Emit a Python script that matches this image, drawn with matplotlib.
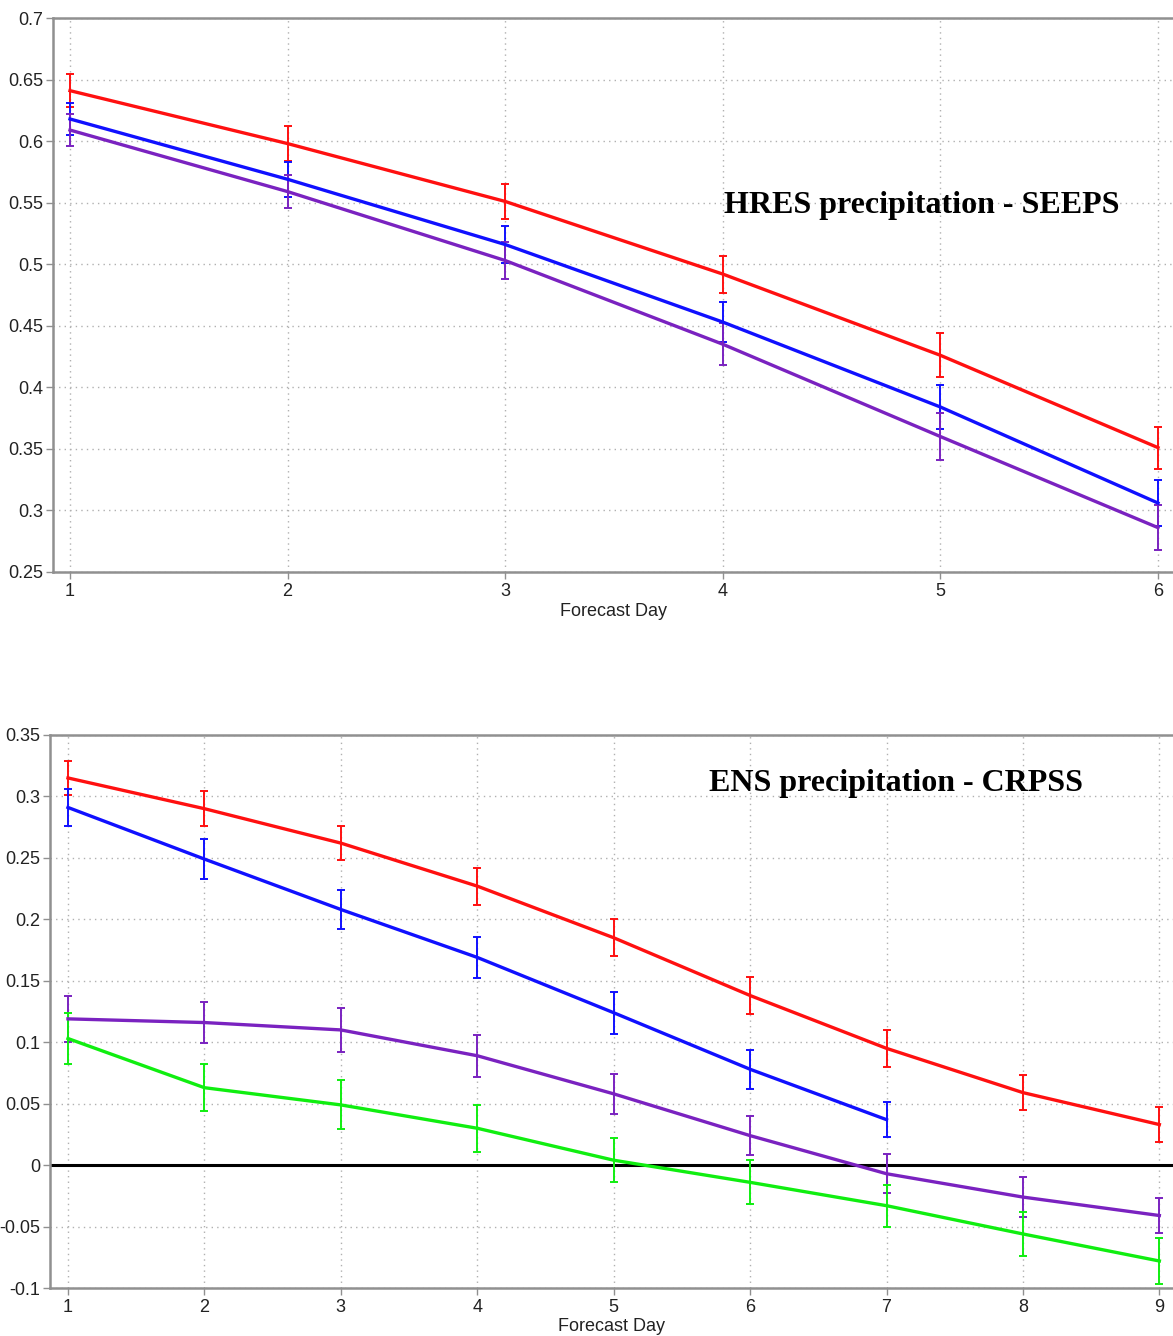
import matplotlib
matplotlib.use("Agg")
import matplotlib.pyplot as plt
import numpy as np

plt.rcParams["font.family"] = ["Liberation Sans", "DejaVu Sans"]

# HRES precipitation SEEPS, forecast days 1-6
hres_days = [1, 2, 3, 4, 5, 6]
hres_red = [0.641, 0.598, 0.551, 0.492, 0.426, 0.351]
hres_red_err = [0.0135, 0.014, 0.014, 0.015, 0.018, 0.017]
hres_blue = [0.618, 0.569, 0.516, 0.453, 0.384, 0.306]
hres_blue_err = [0.013, 0.014, 0.015, 0.016, 0.018, 0.019]
hres_purple = [0.609, 0.559, 0.503, 0.435, 0.360, 0.286]
hres_purple_err = [0.013, 0.0135, 0.015, 0.017, 0.019, 0.018]

# ENS precipitation CRPSS, forecast days 1-9
ens_days = [1, 2, 3, 4, 5, 6, 7, 8, 9]
ens_red = [0.315, 0.290, 0.262, 0.227, 0.185, 0.138, 0.095, 0.059, 0.033]
ens_red_err = [0.014, 0.014, 0.014, 0.015, 0.015, 0.015, 0.015, 0.014, 0.014]
ens_blue_days = [1, 2, 3, 4, 5, 6, 7]
ens_blue = [0.291, 0.249, 0.208, 0.169, 0.124, 0.078, 0.037]
ens_blue_err = [0.015, 0.016, 0.016, 0.017, 0.017, 0.016, 0.014]
ens_purple = [0.119, 0.116, 0.110, 0.089, 0.058, 0.024, -0.007, -0.026, -0.041]
ens_purple_err = [0.019, 0.017, 0.018, 0.017, 0.016, 0.016, 0.016, 0.016, 0.014]
ens_green = [0.103, 0.063, 0.049, 0.030, 0.004, -0.014, -0.033, -0.056, -0.078]
ens_green_err = [0.021, 0.019, 0.020, 0.019, 0.018, 0.018, 0.017, 0.018, 0.019]

RED = "#ff1010"
BLUE = "#1010ff"
PURPLE = "#7a22c0"
GREEN = "#10ee10"
SPINE = "#909090"


def style_axes(ax):
    ax.grid(True, color="#b0b0b0", linestyle=(0, (1, 3)), linewidth=1.0)
    ax.set_axisbelow(True)
    for side in ("left", "bottom", "top"):
        ax.spines[side].set_color(SPINE)
        ax.spines[side].set_linewidth(1.8)
    ax.spines["right"].set_visible(False)
    ax.tick_params(axis="both", direction="out", length=5, width=1, color=SPINE,
                   labelsize=13, labelcolor="#222222")
    ax.tick_params(axis="x", pad=3)
    ax.tick_params(axis="y", pad=2)


def draw(ax, x, y, err, color):
    ax.errorbar(x, y, yerr=err, color=color, linewidth=2.4, elinewidth=1.4,
                capsize=3, capthick=1.4, zorder=3)


def fmt(v):
    s = f"{v:.2f}".rstrip("0").rstrip(".")
    return "0" if s in ("0", "-0") else s


fig = plt.figure(figsize=(11.73, 13.36), dpi=100)

ax1 = fig.add_axes([0.0452, 0.5719, 0.9548, 0.4146])
draw(ax1, hres_days, hres_red, hres_red_err, RED)
draw(ax1, hres_days, hres_blue, hres_blue_err, BLUE)
draw(ax1, hres_days, hres_purple, hres_purple_err, PURPLE)
ax1.set_xlim(0.922, 6.069)
ax1.set_ylim(0.25, 0.7)
ax1.set_xticks(hres_days)
yt1 = np.round(np.arange(0.25, 0.701, 0.05), 2)
ax1.set_yticks(yt1)
ax1.set_yticklabels([fmt(v) for v in yt1])
style_axes(ax1)
ax1.set_xlabel("Forecast Day", fontsize=13, color="#222222", labelpad=2)
ax1.text(0.922 + (922 - 53) / 217.6, 0.7 - (205 - 18) / 1231.0,
         "HRES precipitation - SEEPS", ha="center", va="center",
         fontsize=23, fontweight="bold", family=["Liberation Serif"], color="black")

ax2 = fig.add_axes([0.0426, 0.0359, 0.9574, 0.4140])
ax2.axhline(0, color="black", linewidth=2.2, zorder=2)
draw(ax2, ens_days, ens_red, ens_red_err, RED)
draw(ax2, ens_blue_days, ens_blue, ens_blue_err, BLUE)
draw(ax2, ens_days, ens_purple, ens_purple_err, PURPLE)
draw(ax2, ens_days, ens_green, ens_green_err, GREEN)
ax2.set_xlim(0.868, 9.10)
ax2.set_ylim(-0.1, 0.35)
ax2.set_xticks(ens_days)
yt2 = np.round(np.arange(-0.1, 0.351, 0.05), 2)
ax2.set_yticks(yt2)
ax2.set_yticklabels([fmt(v) for v in yt2])
style_axes(ax2)
ax2.set_xlabel("Forecast Day", fontsize=13, color="#222222", labelpad=1)
ax2.text(0.868 + (896 - 50) / 136.4, 0.35 - (784 - 735) / 1228.0,
         "ENS precipitation - CRPSS", ha="center", va="center",
         fontsize=23, fontweight="bold", family=["Liberation Serif"], color="black")

fig.savefig("out.png", dpi=100)
